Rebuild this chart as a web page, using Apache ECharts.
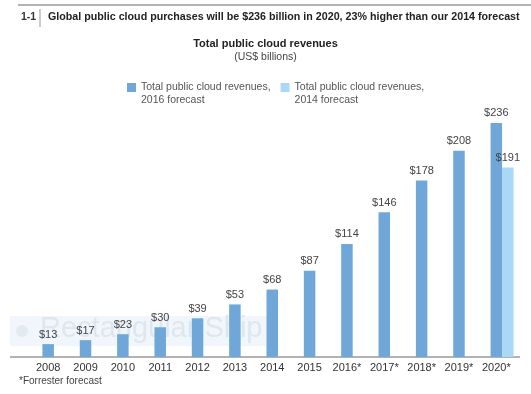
<!DOCTYPE html>
<html><head><meta charset="utf-8">
<script src="https://cdn.jsdelivr.net/npm/echarts@6/dist/echarts.min.js"></script>
<style>html,body{margin:0;padding:0;background:#fff}#c{width:531px;height:394px}</style>
</head><body><div id="c"></div>
<script>
var categories = ['2008','2009','2010','2011','2012','2013','2014','2015','2016*','2017*','2018*','2019*','2020*'];
var forecast2016 = [13,17,23,30,39,53,68,87,114,146,178,208,236];
var forecast2014 = [null,null,null,null,null,null,null,null,null,null,null,null,191];
var placeholder = [null,null,null,null,null,null,null,null,null,null,null,null,null];
var seriesNames = ['Total public cloud revenues,\n2016 forecast','Total public cloud revenues,\n2014 forecast'];

var FONT = '"Liberation Sans", Arial, sans-serif';
var chart = echarts.init(document.getElementById('c'));
var lbl = {show:true, position:'top', distance:4, color:'#444', fontSize:11, fontFamily:FONT,
  formatter:function(p){return p.value==null?'':'$'+p.value;}};
chart.setOption({
  animation:false,
  textStyle:{fontFamily:FONT},
  title:[
    {text:'Total public cloud revenues', left:'center', top:33, textStyle:{fontSize:11, fontWeight:'bold', color:'#222', fontFamily:FONT},
     subtext:'(US$ billions)', subtextStyle:{fontSize:10.5, color:'#444', fontFamily:FONT}, itemGap:3}
  ],
  legend:{
    data:seriesNames, left:122, top:76, itemWidth:9, itemHeight:22, itemGap:10,
    icon:'path://M0,0L9,0L9,9L0,9Z M0,21.99L0.01,21.99L0.01,22L0,22Z',
    textStyle:{fontSize:10.5, color:'#555', fontFamily:FONT, lineHeight:13}
  },
  graphic:[
    {type:'rect', shape:{x:10,y:316,width:262,height:30}, style:{fill:'#f0f6fb'}, z:-10},
    {type:'circle', shape:{cx:22,cy:331,r:6}, style:{fill:'#e2ebf2'}, z:-9},
    {type:'text', left:40, top:314, style:{text:'Rectangular Ship', fontSize:29, fill:'#dfe7ee', fontFamily:FONT}, z:-9},
    {type:'line', shape:{x1:18,y1:5,x2:531,y2:5}, style:{stroke:'#9a9a9a', lineWidth:1.5}},
    {type:'line', shape:{x1:40,y1:9,x2:40,y2:27}, style:{stroke:'#999', lineWidth:1}},
    {type:'text', left:21, top:12, style:{text:'1-1', fontSize:10.5, fontWeight:'bold', fill:'#333', fontFamily:FONT}},
    {type:'text', left:48, top:12, style:{text:'Global public cloud purchases will be $236 billion in 2020, 23% higher than our 2014 forecast', fontSize:10.7, fontWeight:'bold', fill:'#222', fontFamily:FONT}},
    {type:'line', shape:{x1:10,y1:357,x2:520,y2:357}, style:{stroke:'#666', lineWidth:1}},
    {type:'text', left:19, top:376, style:{text:'*Forrester forecast', fontSize:10, fill:'#444', fontFamily:FONT}}
  ],
  grid:{left:29.5, right:16, top:109, bottom:37},
  xAxis:{type:'category', data:categories, axisLine:{show:false}, axisTick:{show:false},
    axisLabel:{color:'#333', fontSize:11, margin:5, interval:0, fontFamily:FONT}},
  yAxis:{type:'value', min:0, max:250, show:false, splitLine:{show:false}},
  series:[
    {type:'bar', name:'_pad', data:placeholder, barWidth:11.5, barGap:0, silent:true},
    {type:'bar', name:seriesNames[0], data:forecast2016, barWidth:11.5, barGap:0, itemStyle:{color:'#6fa8d8'}, label:lbl},
    {type:'bar', name:seriesNames[1], data:forecast2014, barWidth:11.5, barGap:0, itemStyle:{color:'#aad8f6'}, label:lbl}
  ]
});
</script></body></html>
